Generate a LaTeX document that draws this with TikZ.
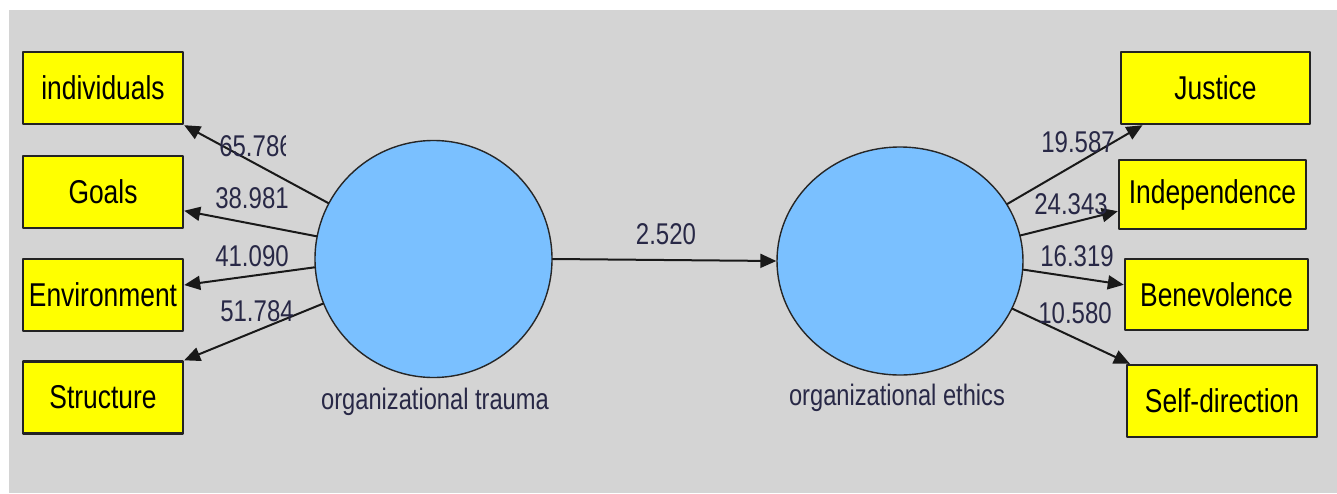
\documentclass[tikz,border=0pt]{standalone}
\usepackage{fontspec}
\newfontfamily\plsfont[FakeStretch=0.8]{Liberation Sans}
\usepackage{tikz}
\usetikzlibrary{arrows.meta, shapes}
\definecolor{bggray}{RGB}{212,212,212}
\definecolor{indyellow}{RGB}{255,255,0}
\definecolor{latblue}{RGB}{122,192,255}
\definecolor{boxline}{RGB}{35,35,35}
\definecolor{numtext}{RGB}{40,40,70}

\begin{document}
\begin{tikzpicture}[line cap=round,line join=round,>={Triangle[length=8pt,width=7pt]},x=0.5pt,y=-0.5pt]
  \tikzset{
  % yellow boxes of the indicators
  indicator/.style={draw=boxline, line width=1.2pt, fill=indyellow, inner sep=0pt,
    minimum height=36pt, font=\plsfont\fontsize{16.5}{18}\selectfont},
  % blue latent variables
  latent/.style={draw=black!85, line width=0.7pt, fill=latblue, inner sep=0pt},
  % names under the latent variables
  latentname/.style={font=\plsfont\fontsize{14.8}{16}\selectfont, text=numtext},
  % numbers on the paths
  weight/.style={font=\plsfont\fontsize{15}{17}\selectfont, text=numtext, inner sep=0pt},
  % arrows between nodes
  link/.style={->, draw=black!90, line width=1pt},
}

\useasboundingbox (0,0) rectangle (1337,493);
\fill[white] (0,0) rectangle (1337,493);
\fill[bggray] (9,10) rectangle (1337,493);

% left side
\node[indicator, minimum width=80pt] (idv) at (103,88) {individuals};
\node[indicator, minimum width=80pt] (goa) at (103,192) {Goals};
\node[indicator, minimum width=80pt] (env) at (103,295) {Environment};
\node[indicator, minimum width=80pt] (str) at (103,397.5) {Structure};

% right side
\node[indicator, minimum width=94.5pt] (jus) at (1215.5,88) {Justice};
\node[indicator, minimum width=93.5pt, minimum height=34.5pt] (inp) at (1212.5,194.5) {Independence};
\node[indicator, minimum width=91.5pt, minimum height=35.5pt] (ben) at (1216.5,294.5) {Benevolence};
\node[indicator, minimum width=95pt] (sdr) at (1222,401) {Self-direction};

% latent variables
\node[latent, circle, minimum size=118.5pt] (T) at (433.5,259) {};
\node[latent, ellipse, minimum width=123pt, minimum height=114pt] (E) at (900,261) {};
\node[latentname] (Tl) at (435,402) {organizational trauma};
\node[latentname] (El) at (897,398) {organizational ethics};

\draw[link] (T.152) -- (idv.south east);
\draw[link] (T.169) -- (goa.-13);
\draw[link] (T.184) -- (env.7);
\draw[link] (T.202) -- (str.north east);
\draw[link] (T.east) -- (E.west);
\draw[link] (E.28) -- (jus.207);
\draw[link] (E.12) -- (inp.190);
\draw[link] (E.-4) -- (ben.174);
\draw[link] (E.-23) -- (sdr.158);

% weights
\begin{scope}
\clip (200,120) rectangle (285,175);
\node[weight] (w1) at (256,146) {65.786};
\end{scope}
\node[weight] (w2) at (252,198) {38.981};
\node[weight] (w3) at (252,256) {41.090};
\node[weight] (w4) at (257,311) {51.784};
\node[weight] (w5) at (666,234) {2.520};
\node[weight] (w6) at (1078,142) {19.587};
\node[weight] (w7) at (1071,204) {24.343};
\node[weight] (w8) at (1077,256) {16.319};
\node[weight] (w9) at (1075,313) {10.580};
\end{tikzpicture}
\end{document}
